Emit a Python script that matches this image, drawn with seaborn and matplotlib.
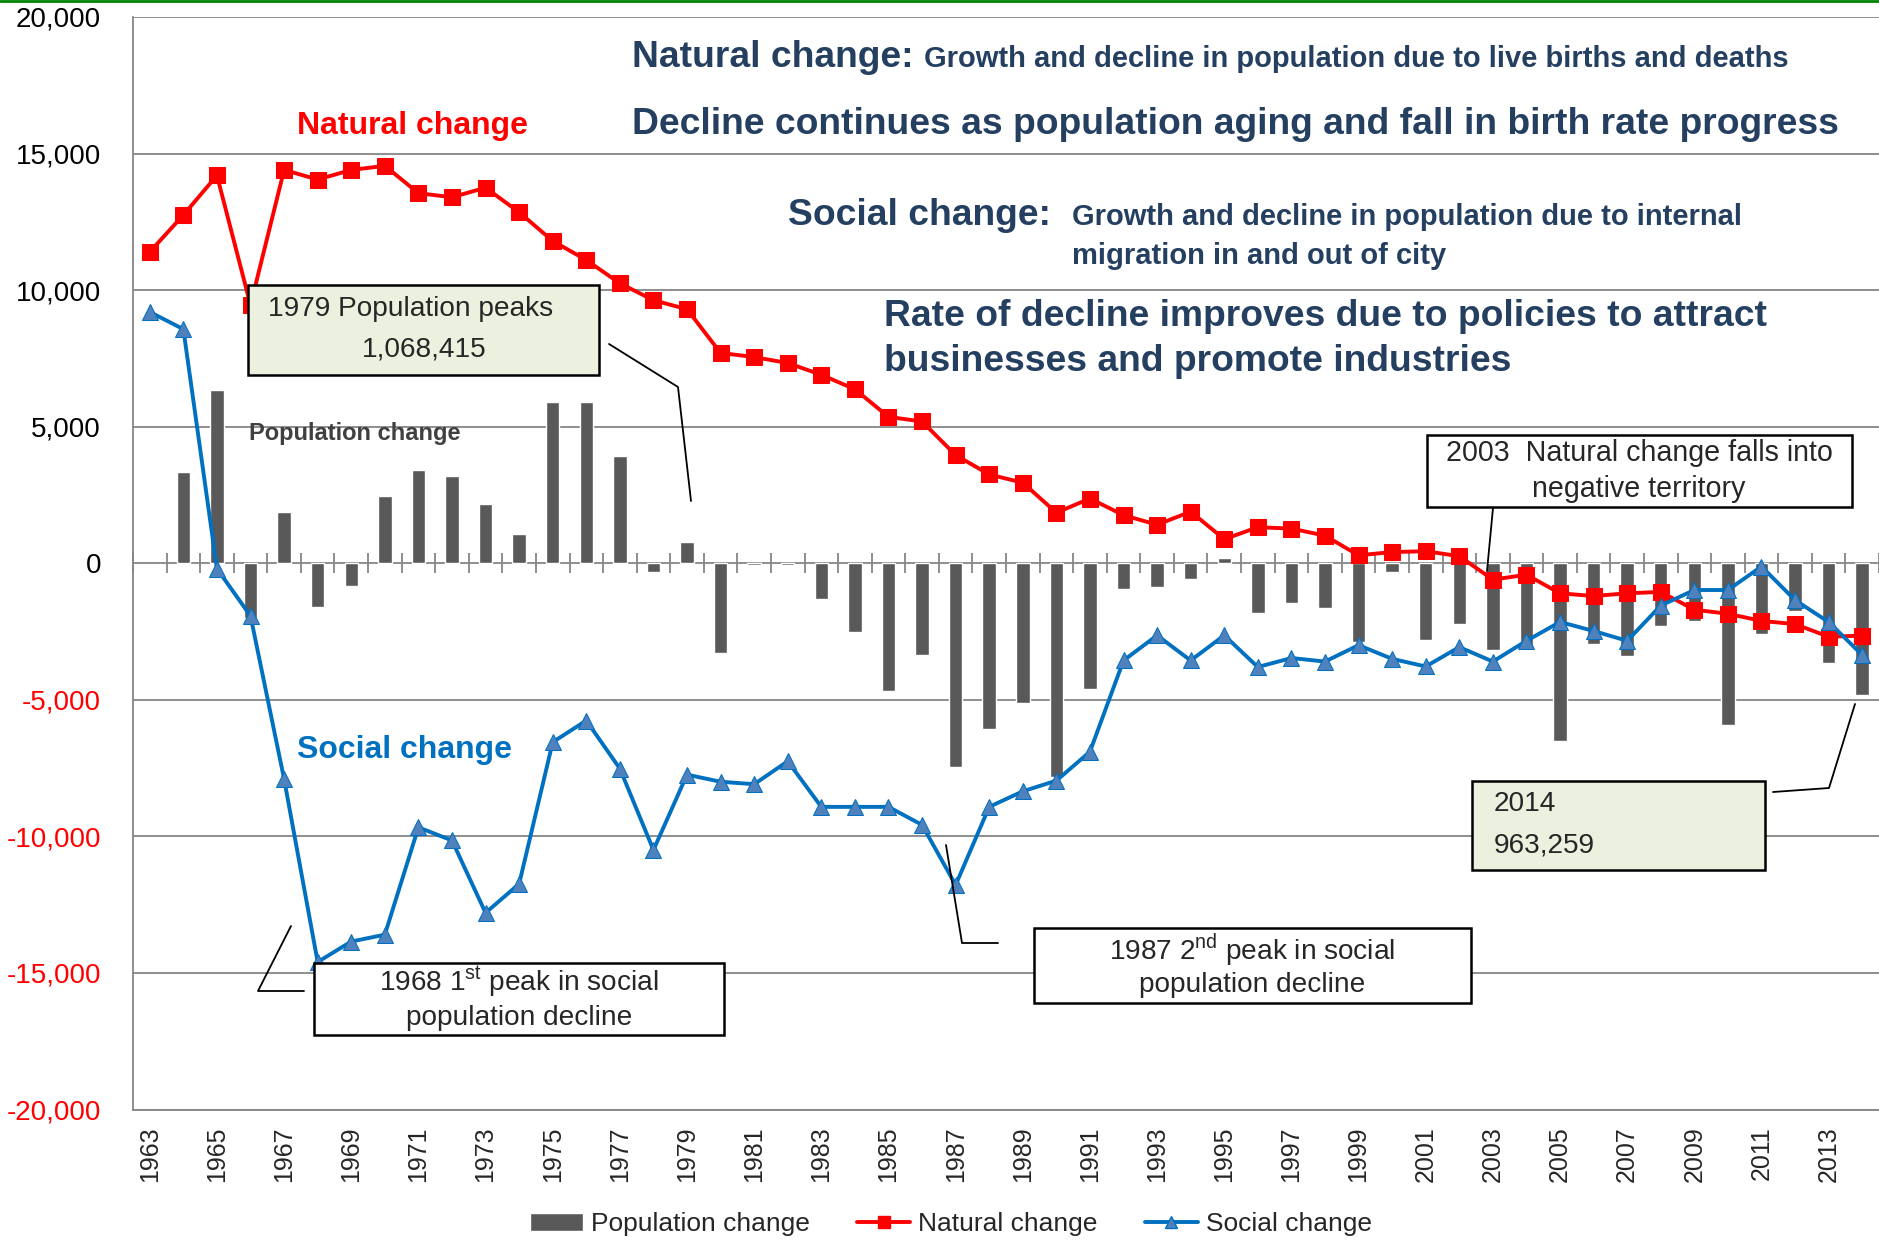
import numpy as np
import pandas as pd
import seaborn as sns
import matplotlib.pyplot as plt
from matplotlib.lines import Line2D
from matplotlib.patches import Patch, Rectangle
from matplotlib.ticker import FuncFormatter, FixedLocator

sns.set_style("white")
plt.rcParams["font.family"] = ["Liberation Sans", "DejaVu Sans"]
plt.rcParams["mathtext.fontset"] = "custom"
plt.rcParams["mathtext.rm"] = "Liberation Sans"

years = list(range(1963, 2015))

population_change = [
    np.nan, 3350, 6350, -1990, 1870, -1620, -820, 2450, 3400, 3190,
    2160, 1060, 5900, 5900, 3920, -330, 770, -3290, -60, -60,
    -1320, -2500, -4670, -3370, -7460, -6080, -5130, -7830, -4610, -950,
    -880, -590, 210, -1830, -1460, -1640, -2880, -330, -2800, -2210,
    -3160, -3070, -6500, -2940, -3380, -2300, -2130, -5940, -2580, -1730,
    -3670, -4830,
]
natural_change = [
    11400, 12750, 14200, 9450, 14400, 14050, 14400, 14550, 13550, 13400,
    13750, 12850, 11800, 11100, 10250, 9630, 9300, 7700, 7550, 7330,
    6900, 6370, 5360, 5190, 3960, 3250, 2950, 1850, 2370, 1760,
    1410, 1890, 880, 1320, 1270, 1010, 290, 410, 440, 260,
    -600, -420, -1100, -1200, -1100, -1050, -1700, -1850, -2110, -2230,
    -2690, -2650,
]
social_change = [
    9200, 8570, -200, -1930, -7900, -14600, -13850, -13600, -9670, -10150,
    -12800, -11740, -6550, -5760, -7520, -10500, -7740, -8000, -8090, -7250,
    -8920, -8920, -8920, -9580, -11780, -8920, -8350, -7960, -6900, -3560,
    -2640, -3560, -2640, -3800, -3470, -3600, -3000, -3500, -3780, -3070,
    -3600, -2840, -2150, -2480, -2840, -1550, -980, -980, -120, -1350,
    -2150, -3360,
]

W, H = 1879, 1240
NAVY = "#243F60"
GRID = "#868686"
RED = "#FF0000"
BLUE = "#0070C0"


def fx(px):
    return px / W


def fy(py):
    return 1 - py / H


df = pd.DataFrame({
    "year": [str(y) for y in years],
    "pos": np.arange(len(years)),
    "population": population_change,
    "natural": natural_change,
    "social": social_change,
})

fig = plt.figure(figsize=(W / 100, H / 100), dpi=100)
ax = fig.add_axes([fx(133), 1 - 1109.5 / H, 1 - fx(133), (1109.5 - 17) / H])

sns.barplot(data=df, x="year", y="population", order=df["year"], color="#595959",
            saturation=1, width=0.4, errorbar=None, ax=ax, zorder=2)
sns.lineplot(data=df, x="pos", y="natural", color=RED, linewidth=2.8, marker="s",
             markersize=11, markeredgecolor=RED, markerfacecolor=RED, ax=ax, zorder=3)
sns.lineplot(data=df, x="pos", y="social", color=BLUE, linewidth=2.8, marker="^",
             markersize=12, markeredgecolor=BLUE, markerfacecolor="#4F81BD", ax=ax, zorder=4)

ax.set_xlim(-0.5, len(years) - 0.5)
ax.set_ylim(-20000, 20000)
ax.set_yticks(np.arange(-20000, 20001, 5000))
ax.yaxis.set_major_formatter(FuncFormatter(lambda v, p: f"{int(v):,}"))
ax.yaxis.grid(True, color=GRID, linewidth=1.3)
ax.set_axisbelow(True)
ax.set_xlabel("")
ax.set_ylabel("")

ax.set_xticks(df["pos"][::2])
ax.set_xticklabels(df["year"][::2], rotation=90, fontsize=18)
ax.tick_params(axis="x", length=0, pad=12)
ax.tick_params(axis="y", length=7, width=1.3, color=GRID, pad=16, labelsize=20)
for lab, v in zip(ax.get_yticklabels(), ax.get_yticks()):
    lab.set_color(RED if v < 0 else "black")

for side in ["top", "right"]:
    ax.spines[side].set_visible(False)
ax.spines["left"].set_color(GRID)
ax.spines["left"].set_linewidth(1.3)
ax.spines["bottom"].set_color(GRID)
ax.spines["bottom"].set_linewidth(1.3)

# category boundary ticks across the zero line
zero_axis = ax.secondary_xaxis(0, transform=ax.transData)
zero_axis.xaxis.set_major_locator(FixedLocator(np.arange(-0.5, len(years), 1.0)))
zero_axis.tick_params(direction="inout", length=14, width=1.3, color=GRID, labelbottom=False,
                      labeltop=False)
for sp in zero_axis.spines.values():
    sp.set_visible(False)

# top green rule
fig.add_artist(Line2D([0, 1], [fy(1), fy(1)], color="#008000", linewidth=2))

# headings
fig.text(fx(632), fy(67), "Natural change:", fontsize=26.8, fontweight="bold", color=NAVY)
fig.text(fx(924), fy(67), "Growth and decline in population due to live births and deaths",
         fontsize=21, fontweight="bold", color=NAVY)
fig.text(fx(632), fy(134), "Decline continues as population aging and fall in birth rate progress",
         fontsize=26.8, fontweight="bold", color=NAVY)
fig.text(fx(788), fy(225), "Social change:", fontsize=26.8, fontweight="bold", color=NAVY)
fig.text(fx(1072), fy(225), "Growth and decline in population due to internal",
         fontsize=21, fontweight="bold", color=NAVY)
fig.text(fx(1072), fy(264), "migration in and out of city", fontsize=21, fontweight="bold", color=NAVY)
fig.text(fx(884), fy(326), "Rate of decline improves due to policies to attract",
         fontsize=26.8, fontweight="bold", color=NAVY)
fig.text(fx(884), fy(371), "businesses and promote industries", fontsize=26.8, fontweight="bold",
         color=NAVY)

fig.text(fx(297), fy(134), "Natural change", fontsize=23, fontweight="bold", color=RED)
fig.text(fx(297), fy(758), "Social change", fontsize=23, fontweight="bold", color=BLUE)
fig.text(fx(249), fy(440), "Population change", fontsize=17, fontweight="bold", color="#404040")


def callout(x0, y0, x1, y1, face):
    fig.add_artist(Rectangle((fx(x0), fy(y1)), (x1 - x0) / W, (y1 - y0) / H,
                             transform=fig.transFigure, facecolor=face, edgecolor="black",
                             linewidth=1.8, zorder=5))


def leader(xs, ys):
    fig.add_artist(Line2D([fx(x) for x in xs], [fy(y) for y in ys], color="black",
                          linewidth=1.3, zorder=5))


LIGHT = "#EBF1DE"
callout(248, 285, 599, 375, LIGHT)
fig.text(fx(268), fy(309), "1979 Population peaks", fontsize=20.2, va="center", zorder=6)
fig.text(fx(424), fy(350), "1,068,415", fontsize=20.2, va="center", ha="center", zorder=6)
leader([609, 678, 691], [344, 387, 501])

callout(1427, 435, 1852, 507, "white")
fig.text(fx(1639), fy(453), "2003  Natural change falls into", fontsize=20.6, va="center",
         ha="center", zorder=6)
fig.text(fx(1639), fy(489), "negative territory", fontsize=20.6, va="center", ha="center", zorder=6)
leader([1493, 1487], [508, 571])

callout(1472, 781, 1765, 870, LIGHT)
fig.text(fx(1494), fy(804), "2014", fontsize=20.2, va="center", zorder=6)
fig.text(fx(1494), fy(846), "963,259", fontsize=20.2, va="center", zorder=6)
leader([1773, 1829, 1855], [792, 788, 704])

callout(314, 963, 724, 1035, "white")
fig.text(fx(519), fy(982), r"1968 1$^{\mathrm{st}}$ peak in social", fontsize=20.2, va="center",
         ha="center", zorder=6)
fig.text(fx(519), fy(1018), "population decline", fontsize=20.2, va="center", ha="center", zorder=6)
leader([304, 258, 291], [991, 991, 926])

callout(1034, 928, 1471, 1003, "white")
fig.text(fx(1252), fy(950), r"1987 2$^{\mathrm{nd}}$ peak in social", fontsize=20.2, va="center",
         ha="center", zorder=6)
fig.text(fx(1252), fy(985), "population decline", fontsize=20.2, va="center", ha="center", zorder=6)
leader([998, 962, 946], [943, 943, 845])

handles = [
    Patch(facecolor="#595959"),
    Line2D([], [], color=RED, linewidth=2.8, marker="s", markersize=8),
    Line2D([], [], color=BLUE, linewidth=2.8, marker="^", markersize=9,
           markerfacecolor="#4F81BD", markeredgecolor=BLUE),
]
fig.legend(handles, ["Population change", "Natural change", "Social change"],
           loc="center", bbox_to_anchor=(fx(951), fy(1224)), ncol=3, frameon=False,
           fontsize=19, handlelength=2.0, columnspacing=1.8, handletextpad=0.3)

fig.savefig("out.png", dpi=100)
